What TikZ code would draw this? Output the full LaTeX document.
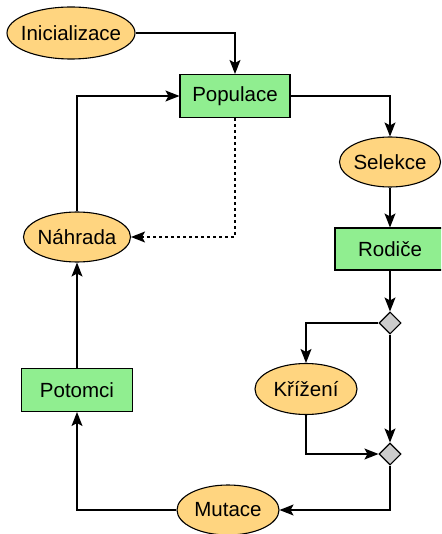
\documentclass[tikz,border=0pt]{standalone}
\usepackage{fontspec}
\setmainfont{Liberation Sans}
\usetikzlibrary{shapes.geometric,arrows.meta}
\definecolor{ellfill}{HTML}{FFD580}
\definecolor{boxfill}{HTML}{90EE90}
\definecolor{diafill}{HTML}{CCCCCC}
\tikzset{
  txt/.style={font=\fontsize{20.5}{24}\selectfont},
  ell/.style={ellipse,draw=black,line width=1.1pt,fill=ellfill,inner sep=0pt},
  elltext/.style={label={[txt,inner sep=0pt]center:#1}},
  box/.style={rectangle,draw=black,line width=1.1pt,fill=boxfill,inner sep=0pt,minimum width=110pt,minimum height=43pt,txt},
  dia/.style={diamond,draw=black,line width=1.1pt,fill=diafill,inner sep=0pt,minimum width=22pt,minimum height=22pt},
  arr/.style={draw=black,line width=1.2pt,-{Stealth[length=14pt,width=11pt,inset=3pt]}},
  dotline/.style={dash pattern=on 3pt off 3pt}
}
\begin{document}
\begin{tikzpicture}[x=1pt,y=-1pt]
\useasboundingbox (0,0) rectangle (441,534);
\clip (0,0) rectangle (441,534);
\fill[white] (0,0) rectangle (441,534);
\node[ell,minimum width=128pt,minimum height=52pt,elltext=Inicializace] (ini) at (71,33) {};
\node[box] (pop) at (235,96) {Populace};
\node[ell,minimum width=101pt,minimum height=50pt,elltext=Selekce] (sel) at (390,162) {};
\node[box,minimum height=42pt] (rod) at (390,249) {Rodiče};
\node[dia] (d1) at (390,323) {};
\node[ell,minimum width=102pt,minimum height=51pt,elltext=Křížení] (kri) at (306,389) {};
\node[dia] (d2) at (390,454) {};
\node[ell,minimum width=102pt,minimum height=50pt,elltext=Mutace] (mut) at (228,510) {};
\node[box,minimum width=111pt] (pot) at (77,390) {Potomci};
\node[ell,minimum width=107pt,minimum height=50pt,elltext=Náhrada] (nah) at (77,237) {};
\draw[arr] (ini.east) -| (pop.north);
\draw[arr] (pop.east) -| (sel.north);
\draw[arr] (sel.south) -- (rod.north);
\draw[arr] (rod.south) -- (d1.north);
\draw[arr] (d1.west) -| (kri.north);
\draw[arr] (kri.south) |- (d2.west);
\draw[arr] (d1.south) -- (d2.north);
\draw[arr] (d2.south) |- (mut.east);
\draw[arr] (mut.west) -| (pot.south);
\draw[arr] (pot.north) -- (nah.south);
\draw[arr] (nah.north) |- (pop.west);
\draw[arr,dotline] (pop.south) |- (nah.east);
\end{tikzpicture}
\end{document}
